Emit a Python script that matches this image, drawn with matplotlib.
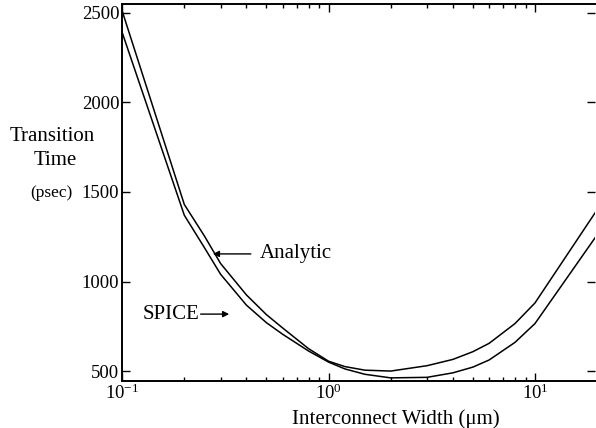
import matplotlib
matplotlib.use("Agg")
import matplotlib.pyplot as plt
from matplotlib.ticker import LogLocator, LogFormatterSciNotation, NullFormatter

plt.rcParams["font.family"] = "Liberation Serif"
plt.rcParams["mathtext.fontset"] = "custom"
plt.rcParams["mathtext.rm"] = "Liberation Serif"

# interconnect width (um)
width = [0.1, 0.2, 0.25, 0.3, 0.4, 0.5, 0.6, 0.8, 1.0, 1.2, 1.5, 2.0, 3.0,
         4.0, 5.0, 6.0, 8.0, 10.0, 20.0]
# transition time (psec)
analytic = [2510, 1430, 1255, 1100, 925, 815, 740, 625, 555, 525, 505, 500,
            530, 565, 608, 655, 765, 880, 1400]
spice = [2390, 1370, 1190, 1040, 868, 770, 705, 612, 550, 512, 482, 462,
         465, 490, 522, 562, 660, 765, 1260]

y_ticks = [500, 1000, 1500, 2000, 2500]

fig = plt.figure(figsize=(5.96, 4.28), dpi=100)
ax = fig.add_axes([0.205, 0.11, 0.793, 0.881])

ax.plot(width, analytic, color="black", lw=1.1)
ax.plot(width, spice, color="black", lw=1.1)

ax.set_xscale("log")
ax.set_xlim(0.1, 19.5)
ax.set_ylim(445, 2550)
ax.set_yticks(y_ticks)
ax.set_yticklabels([str(t) for t in y_ticks])

ax.xaxis.set_major_locator(LogLocator(base=10))
ax.xaxis.set_major_formatter(LogFormatterSciNotation())
ax.xaxis.set_minor_locator(LogLocator(base=10, subs=range(2, 10)))
ax.xaxis.set_minor_formatter(NullFormatter())

ax.tick_params(which="both", direction="in", top=True, right=True,
               labelsize=13.5, colors="black", width=1)
ax.tick_params(which="major", length=6, pad=2)
ax.tick_params(which="minor", length=3)
for s in ax.spines.values():
    s.set_linewidth(1.4)
ax.spines["right"].set_visible(False)

ax.set_xlabel("Interconnect Width (\u03bcm)", fontsize=15)
ax.xaxis.set_label_coords(0.579, -0.075)

fig.text(0.088, 0.68, "Transition", fontsize=15, ha="center", va="center")
fig.text(0.092, 0.624, "Time", fontsize=15, ha="center", va="center")
fig.text(0.086, 0.549, "(psec)", fontsize=12.5, ha="center", va="center")

ax.annotate("", xy=(0.275, 1154), xytext=(0.42, 1154),
            arrowprops=dict(arrowstyle="-|>", color="black", lw=1,
                            mutation_scale=9, shrinkA=0, shrinkB=0))
ax.text(0.462, 1154, "Analytic", fontsize=15, va="center", ha="left")

ax.annotate("", xy=(0.33, 818), xytext=(0.24, 818),
            arrowprops=dict(arrowstyle="-|>", color="black", lw=1,
                            mutation_scale=9, shrinkA=0, shrinkB=0))
ax.text(0.236, 818, "SPICE", fontsize=15, va="center", ha="right")

fig.savefig("out.png", dpi=100)
plt.close(fig)
